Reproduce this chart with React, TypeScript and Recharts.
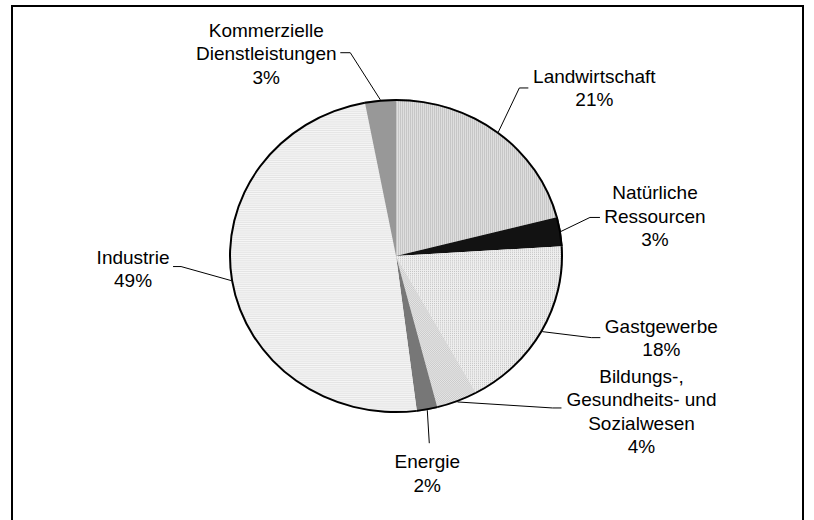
import React from 'react';
import { PieChart, Pie, Cell } from 'recharts';

const categories = [
  'Landwirtschaft',
  'Natürliche Ressourcen',
  'Gastgewerbe',
  'Bildungs-, Gesundheits- und Sozialwesen',
  'Energie',
  'Industrie',
  'Kommerzielle Dienstleistungen',
];
const shares = [21, 3, 18, 4, 2, 49, 3];
const labelRows = [
  ['Landwirtschaft'],
  ['Natürliche', 'Ressourcen'],
  ['Gastgewerbe'],
  ['Bildungs-,', 'Gesundheits- und', 'Sozialwesen'],
  ['Energie'],
  ['Industrie'],
  ['Kommerzielle', 'Dienstleistungen'],
];
const fills = ['url(#vert)', '#121212', 'url(#dots)', 'url(#check)', '#777777', 'url(#horiz)', '#989898'];

// where each label sits, relative to the point where its leader leaves the rim
const labelSpots = [
  { bend: [21, -44], tail: 9, text: [75, -5] },
  { bend: [29, -14], tail: 10, text: [65, -18] },
  { bend: [49, 6], tail: 9, text: [70, -5] },
  { bend: [95, 6], tail: 9, text: [89, -25] },
  { bend: [2, 33], tail: 0, text: [-2, 25] },
  { bend: [-50, -14], tail: -8, text: [-48, -3] },
  { bend: [-30, -47], tail: -10, text: [-84, -16] },
];

const data = categories.map((name, i) => ({ name, value: shares[i] }));

const SQUASH = 0.94; // the original pie is a little flatter than it is wide
const CX = 396;
const CY = 256;
const R = 167;
const FONT = '"Liberation Sans", Arial, sans-serif';

function renderLabel(props: any) {
  const { cx, cy, midAngle, outerRadius, index, percent } = props;
  const rad = Math.PI / 180;
  const ex = cx + outerRadius * Math.cos(-midAngle * rad);
  const ey = cy + outerRadius * SQUASH * Math.sin(-midAngle * rad);
  const spot = labelSpots[index];
  const bx = ex + spot.bend[0];
  const by = ey + spot.bend[1];
  const tx = bx + spot.text[0];
  const rows = [...labelRows[index], `${Math.round(percent * 100)}%`];
  return (
    <g key={`lbl-${index}`}>
      <polyline
        points={`${ex},${ey} ${bx},${by} ${bx + spot.tail},${by}`}
        fill="none"
        stroke="#000"
        strokeWidth={1}
      />
      <text x={tx} y={by + spot.text[1]} textAnchor="middle" fontFamily={FONT} fontSize={19} fill="#000">
        {rows.map((r, k) => (
          <tspan key={k} x={tx} dy={k === 0 ? 0 : 23.5}>
            {r}
          </tspan>
        ))}
      </text>
    </g>
  );
}

export default function App() {
  return (
    <div style={{ position: 'absolute', left: 0, top: 0, width: 814, height: 520, overflow: 'hidden', background: '#fff' }}>
      <style>{`.squash path.recharts-sector { transform: scale(1, ${SQUASH}); transform-origin: ${CX}px ${CY}px; }`}</style>
      <svg width={0} height={0} style={{ position: 'absolute' }}>
        <defs>
          <pattern id="vert" width={2} height={2} patternUnits="userSpaceOnUse">
            <rect width={2} height={2} fill="#dedede" />
            <rect width={1} height={2} fill="#c6c6c6" />
          </pattern>
          <pattern id="dots" width={2} height={2} patternUnits="userSpaceOnUse">
            <rect width={2} height={2} fill="#eeeeee" />
            <rect width={1} height={1} fill="#c4c4c4" />
          </pattern>
          <pattern id="check" width={2} height={2} patternUnits="userSpaceOnUse">
            <rect width={2} height={2} fill="#e6e6e6" />
            <rect width={1} height={1} fill="#cacaca" />
            <rect x={1} y={1} width={1} height={1} fill="#cacaca" />
          </pattern>
          <pattern id="horiz" width={2} height={2} patternUnits="userSpaceOnUse">
            <rect width={2} height={2} fill="#f6f6f6" />
            <rect width={2} height={1} fill="#e4e4e4" />
          </pattern>
        </defs>
      </svg>
      <div
        style={{
          position: 'absolute',
          left: 11,
          top: 5,
          width: 789,
          height: 540,
          borderTop: '2px solid #000',
          borderLeft: '2px solid #000',
          borderRight: '2px solid #000',
        }}
      />
      <div style={{ position: 'absolute', left: 0, top: 0 }}>
        <PieChart width={814} height={520} className="squash" margin={{ top: 0, right: 0, bottom: 0, left: 0 }}>
          <Pie
            data={data}
            dataKey="value"
            nameKey="name"
            cx={CX}
            cy={CY}
            outerRadius={R}
            startAngle={90}
            endAngle={-270}
            stroke="none"
            labelLine={false}
            label={renderLabel}
            isAnimationActive={false}
          >
            {data.map((d, i) => (
              <Cell key={d.name} fill={fills[i]} />
            ))}
          </Pie>
          <Pie
            data={data}
            dataKey="value"
            cx={CX}
            cy={CY}
            innerRadius={R - 2}
            outerRadius={R}
            startAngle={90}
            endAngle={-270}
            fill="#000"
            stroke="none"
            isAnimationActive={false}
          />
        </PieChart>
      </div>
    </div>
  );
}
